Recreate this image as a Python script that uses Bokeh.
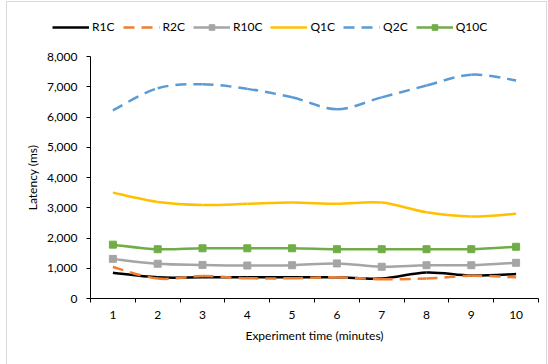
import numpy as np
from bokeh.plotting import figure
from bokeh.layouts import column
from bokeh.models import (Range1d, FixedTicker, NumeralTickFormatter, Legend, LegendItem,
                          ColumnDataSource)
from bokeh.embed import file_html
from bokeh.resources import INLINE

minutes = [1, 2, 3, 4, 5, 6, 7, 8, 9, 10]
tick_labels = [str(m) for m in minutes]

R1C = [850, 700, 700, 700, 700, 700, 660, 860, 760, 810]
R2C = [1040, 660, 740, 670, 670, 700, 640, 660, 750, 700]
R10C = [1310, 1150, 1110, 1090, 1100, 1160, 1050, 1100, 1100, 1180]
Q1C = [3500, 3190, 3090, 3130, 3170, 3130, 3170, 2850, 2710, 2800]
Q2C = [6220, 6950, 7080, 6930, 6650, 6260, 6650, 7040, 7400, 7210]
Q10C = [1780, 1630, 1660, 1660, 1660, 1630, 1630, 1630, 1630, 1710]

series = [
    ("R1C", R1C, "#000000", "solid", False),
    ("R2C", R2C, "#ED7D31", "11 7", False),
    ("R10C", R10C, "#A5A5A5", "solid", True),
    ("Q1C", Q1C, "#FFC000", "solid", False),
    ("Q2C", Q2C, "#5B9BD5", "11 7", False),
    ("Q10C", Q10C, "#70AD47", "solid", True),
]

FONT = "Lato"

# legend strip (its own small figure holding only the legend)
lf = figure(width=539, height=40, output_backend="svg", toolbar_location=None,
            x_range=Range1d(0, 1), y_range=Range1d(0, 1), x_axis_type=None, y_axis_type=None,
            min_border=0)
lf.outline_line_color = None
lf.grid.visible = False
lf.frame_align = False

# main chart
p = figure(width=539, height=322, output_backend="svg", toolbar_location=None,
           x_range=Range1d(0.5, 10.5), y_range=Range1d(0, 8000),
           min_border_left=83, min_border_right=8, min_border_top=14, min_border_bottom=66)
p.outline_line_color = None
p.grid.visible = False
p.frame_align = False


def smooth_segments(xs, ys):
    xs = np.asarray(xs, float)
    ys = np.asarray(ys, float)
    n = len(xs)
    x0, y0, x1, y1, cx0, cy0, cx1, cy1 = ([] for _ in range(8))
    for i in range(n - 1):
        pm = max(i - 1, 0)
        pp = min(i + 2, n - 1)
        x0.append(xs[i]); y0.append(ys[i])
        x1.append(xs[i + 1]); y1.append(ys[i + 1])
        cx0.append(xs[i] + (xs[i + 1] - xs[pm]) / 6.0)
        cy0.append(ys[i] + (ys[i + 1] - ys[pm]) / 6.0)
        cx1.append(xs[i + 1] - (xs[pp] - xs[i]) / 6.0)
        cy1.append(ys[i + 1] - (ys[pp] - ys[i]) / 6.0)
    return dict(x0=x0, y0=y0, x1=x1, y1=y1, cx0=cx0, cy0=cy0, cx1=cx1, cy1=cy1)


items = []
for name, vals, color, dash, marker in series:
    src = ColumnDataSource(smooth_segments(minutes, vals))
    p.bezier(x0="x0", y0="y0", x1="x1", y1="y1", cx0="cx0", cy0="cy0", cx1="cx1", cy1="cy1",
             source=src, line_color=color, line_width=2.5, line_dash=dash)
    # legend proxies: same series values, placed outside the strip's visible range
    rs = [lf.line(x=minutes, y=vals, line_color=color, line_width=2.5, line_dash=dash)]
    if marker:
        p.scatter(x=minutes, y=vals, marker="square", size=7, fill_color=color, line_color=color)
        rs.append(lf.scatter(x=minutes, y=vals, marker="square", size=7,
                             fill_color=color, line_color=color))
    items.append(LegendItem(label=name, renderers=rs))

legend = Legend(items=items, orientation="horizontal", location=(45, 8),
                glyph_width=37, glyph_height=14, label_height=14, label_width=10,
                label_standoff=3, spacing=8,
                padding=0, margin=0, border_line_color=None, background_fill_alpha=0,
                label_text_font=FONT, label_text_font_size="12px", label_text_color="#000000")
lf.add_layout(legend, "center")

# axes
xa = p.xaxis[0]
xa.ticker = FixedTicker(ticks=minutes, minor_ticks=[m - 0.5 for m in minutes] + [10.5])
xa.major_label_overrides = {m: t for m, t in zip(minutes, tick_labels)}
xa.major_tick_out = 0
xa.major_tick_in = 0
xa.minor_tick_out = 4
xa.minor_tick_in = 0
xa.minor_tick_line_color = "#000000"
xa.axis_line_color = "#000000"
xa.major_label_standoff = 8
xa.axis_label = "Experiment time (minutes)"
xa.axis_label_standoff = 6

ya = p.yaxis[0]
ya.ticker = FixedTicker(ticks=list(range(0, 8001, 1000)))
ya.formatter = NumeralTickFormatter(format="0,0")
ya.major_tick_out = 4
ya.major_tick_in = 0
ya.minor_tick_line_color = None
ya.axis_line_color = "#000000"
ya.major_tick_line_color = "#000000"
ya.major_label_standoff = 9
ya.axis_label = "Latency (ms)"
ya.axis_label_standoff = 4

for ax in (xa, ya):
    ax.major_label_text_font = FONT
    ax.major_label_text_font_size = "12px"
    ax.major_label_text_color = "#000000"
    ax.axis_label_text_font = FONT
    ax.axis_label_text_font_size = "12px"
    ax.axis_label_text_font_style = "normal"
    ax.axis_label_text_color = "#000000"

layout = column(lf, p, spacing=0, margin=(2, 0, 0, 7),
                styles={"box-shadow": "0 0 0 1px #D9D9D9"})

open("out.html", "w").write(file_html(layout, INLINE))
